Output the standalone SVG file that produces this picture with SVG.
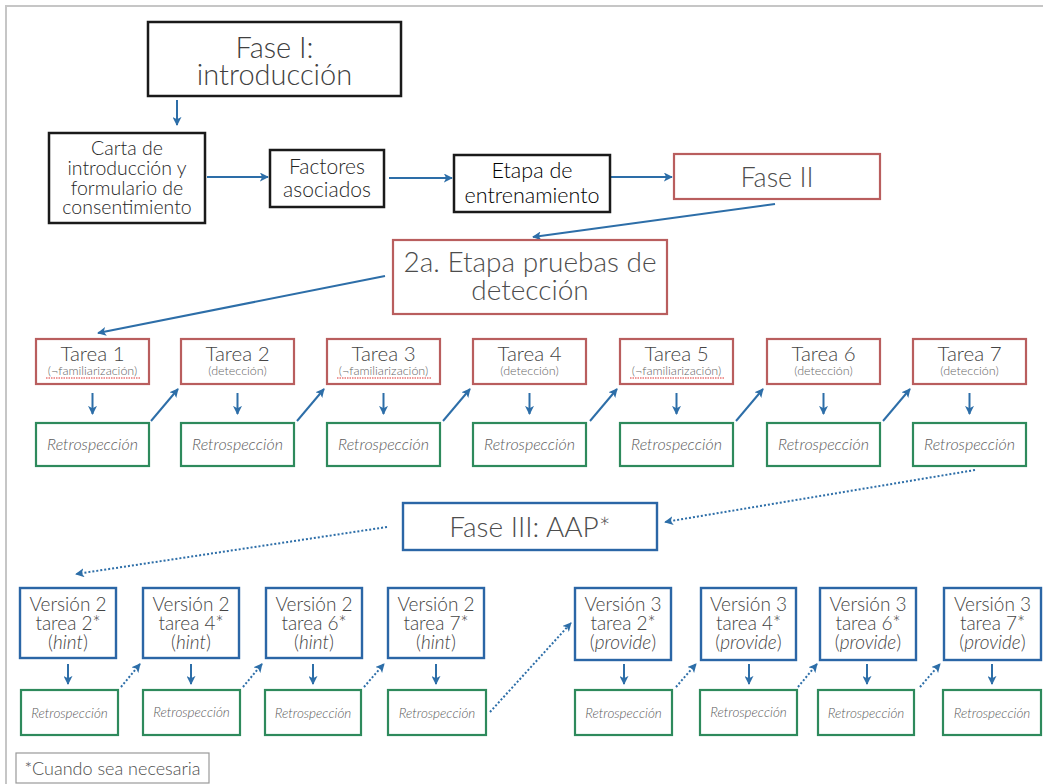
<svg xmlns="http://www.w3.org/2000/svg" width="1043" height="784" viewBox="0 0 1043 784">
  <style>
    text { font-family: Lato, "Open Sans", "Liberation Sans", sans-serif; text-anchor: middle; fill: #4d4d4d; font-weight: 300; }
    .blk { fill: none; stroke: #1a1a1a; stroke-width: 2.5; }
    .red { fill: #fff; stroke: #b95e5e; stroke-width: 2.2; }
    .grn { fill: #fff; stroke: #2e8a5c; stroke-width: 2.2; }
    .blu { fill: #fff; stroke: #2b66a6; stroke-width: 2.4; }
    .conn { stroke: #2d6ea8; stroke-width: 2; fill: none; }
    .dot { stroke: #2d6ea8; stroke-width: 2; fill: none; stroke-dasharray: 2 2; }
    .t28 { font-size: 29px; fill: #404040; }
    .t19 { font-size: 19.5px; fill: #262626; }
    .t21 { font-size: 21px; fill: #262626; }
    .t22 { font-size: 21.5px; fill: #000; }
    .t26 { font-size: 28px; }
    .task { font-size: 20.5px; fill: #444; }
    .sub { font-size: 12.5px; fill: #666; }
    .retro { font-size: 16px; font-style: italic; fill: #5c5c5c; }
    .ver { font-size: 19px; fill: #444; }
    .rs { font-size: 13.5px; font-style: italic; fill: #5c5c5c; }
    .squig { fill: none; stroke: #d33; stroke-width: 1; stroke-dasharray: 1.5 1; }
  </style>
  <defs>
    <marker id="ah" viewBox="0 0 10 10" refX="9" refY="5" markerWidth="9" markerHeight="9" markerUnits="userSpaceOnUse" orient="auto">
      <path d="M0,0 L10,5 L0,10 L2.5,5 Z" fill="#2d6ea8"/>
    </marker>
  </defs>

  <rect width="1043" height="784" fill="#fff"/>
  <!-- page frame -->
  <path d="M6,784 V6 H1043" fill="none" stroke="#c6c6c6" stroke-width="2"/>

  <!-- connectors -->
  <g id="connectors">
    <line class="conn" x1="177" y1="100" x2="177" y2="125" marker-end="url(#ah)"/>
    <line class="conn" x1="207" y1="177" x2="268" y2="177" marker-end="url(#ah)"/>
    <line class="conn" x1="389" y1="178" x2="452" y2="178" marker-end="url(#ah)"/>
    <line class="conn" x1="611" y1="177" x2="672" y2="177" marker-end="url(#ah)"/>
    <line class="conn" x1="775" y1="204" x2="533" y2="237" marker-end="url(#ah)"/>
    <line class="conn" x1="385" y1="276" x2="98" y2="333" marker-end="url(#ah)"/>

    <!-- Tarea -> Retrospección -->
    <line class="conn" x1="92.5" y1="393" x2="92.5" y2="414" marker-end="url(#ah)"/>
    <line class="conn" x1="237.5" y1="393" x2="237.5" y2="414" marker-end="url(#ah)"/>
    <line class="conn" x1="383.5" y1="393" x2="383.5" y2="414" marker-end="url(#ah)"/>
    <line class="conn" x1="529.5" y1="393" x2="529.5" y2="414" marker-end="url(#ah)"/>
    <line class="conn" x1="676.5" y1="393" x2="676.5" y2="414" marker-end="url(#ah)"/>
    <line class="conn" x1="823.5" y1="393" x2="823.5" y2="414" marker-end="url(#ah)"/>
    <line class="conn" x1="969.5" y1="393" x2="969.5" y2="414" marker-end="url(#ah)"/>
    <!-- Retrospección -> next Tarea -->
    <line class="conn" x1="151" y1="421" x2="178" y2="389" marker-end="url(#ah)"/>
    <line class="conn" x1="297" y1="421" x2="324" y2="389" marker-end="url(#ah)"/>
    <line class="conn" x1="443" y1="421" x2="470" y2="389" marker-end="url(#ah)"/>
    <line class="conn" x1="590" y1="421" x2="617" y2="389" marker-end="url(#ah)"/>
    <line class="conn" x1="736" y1="421" x2="763" y2="389" marker-end="url(#ah)"/>
    <line class="conn" x1="883" y1="421" x2="910" y2="389" marker-end="url(#ah)"/>

    <line class="dot" x1="975" y1="470" x2="665" y2="522" marker-end="url(#ah)"/>
    <line class="dot" x1="387" y1="527" x2="76" y2="574" marker-end="url(#ah)"/>

    <!-- Versión -> Retrospección -->
    <line class="conn" x1="68" y1="664" x2="68" y2="684" marker-end="url(#ah)"/>
    <line class="conn" x1="191" y1="664" x2="191" y2="684" marker-end="url(#ah)"/>
    <line class="conn" x1="313" y1="664" x2="313" y2="684" marker-end="url(#ah)"/>
    <line class="conn" x1="436" y1="664" x2="436" y2="684" marker-end="url(#ah)"/>
    <line class="conn" x1="624" y1="664" x2="624" y2="684" marker-end="url(#ah)"/>
    <line class="conn" x1="749" y1="664" x2="749" y2="684" marker-end="url(#ah)"/>
    <line class="conn" x1="867" y1="664" x2="867" y2="684" marker-end="url(#ah)"/>
    <line class="conn" x1="992" y1="664" x2="992" y2="684" marker-end="url(#ah)"/>
    <!-- Retrospección -> next Versión -->
    <line class="dot" x1="121" y1="687" x2="140" y2="664" marker-end="url(#ah)"/>
    <line class="dot" x1="243" y1="687" x2="262" y2="664" marker-end="url(#ah)"/>
    <line class="dot" x1="364" y1="687" x2="384" y2="664" marker-end="url(#ah)"/>
    <line class="dot" x1="490" y1="712" x2="571" y2="623" marker-end="url(#ah)"/>
    <line class="dot" x1="676" y1="687" x2="696" y2="664" marker-end="url(#ah)"/>
    <line class="dot" x1="798" y1="687" x2="817" y2="664" marker-end="url(#ah)"/>
    <line class="dot" x1="920" y1="687" x2="940" y2="664" marker-end="url(#ah)"/>
  </g>

  <!-- Fase I -->
  <g id="fase1">
    <rect class="blk" x="148" y="22" width="253" height="74"/>
    <text class="t28" x="274.5" y="58">Fase I:</text>
    <text class="t28" x="274.5" y="85">introducción</text>
  </g>
  <g id="carta">
    <rect class="blk" x="49" y="133" width="156" height="90"/>
    <text class="t19" x="127" y="155">Carta de</text>
    <text class="t19" x="127" y="175">introducción y</text>
    <text class="t19" x="127" y="195">formulario de</text>
    <text class="t19" x="127" y="214">consentimiento</text>
  </g>
  <g id="factores">
    <rect class="blk" x="270" y="150" width="114" height="57"/>
    <text class="t21" x="327" y="174">Factores</text>
    <text class="t21" x="327" y="197">asociados</text>
  </g>
  <g id="entrenamiento">
    <rect class="blk" x="454" y="155" width="156" height="57"/>
    <text class="t22" x="532" y="178">Etapa de</text>
    <text class="t22" x="532" y="203">entrenamiento</text>
  </g>
  <g id="fase2">
    <rect class="red" x="674" y="154" width="206" height="45"/>
    <text x="777" y="187" style="font-size:27px">Fase II</text>
  </g>
  <g id="etapa2a">
    <rect class="red" x="393" y="240" width="274" height="74"/>
    <text class="t26" x="530" y="272">2a. Etapa pruebas de</text>
    <text class="t26" x="530" y="300">detección</text>
  </g>

  <!-- Tareas -->
  <g id="tarea1">
    <rect class="red" x="36" y="339" width="113" height="45"/>
    <text class="task" x="92.5" y="361">Tarea 1</text>
    <text class="sub" x="92.5" y="375">(¬familiarización)</text>
    <path class="squig" d="M46,378 H140"/>
  </g>
  <g id="retro1"><rect class="grn" x="36" y="423" width="113" height="43"/><text class="retro" x="92.5" y="450">Retrospección</text></g>
  <g id="tarea2">
    <rect class="red" x="181" y="339" width="113" height="45"/>
    <text class="task" x="237.5" y="361">Tarea 2</text>
    <text class="sub" x="237.5" y="375">(detección)</text>
  </g>
  <g id="retro2"><rect class="grn" x="181" y="423" width="113" height="43"/><text class="retro" x="237.5" y="450">Retrospección</text></g>
  <g id="tarea3">
    <rect class="red" x="327" y="339" width="113" height="45"/>
    <text class="task" x="383.5" y="361">Tarea 3</text>
    <text class="sub" x="383.5" y="375">(¬familiarización)</text>
    <path class="squig" d="M337,378 H431"/>
  </g>
  <g id="retro3"><rect class="grn" x="327" y="423" width="113" height="43"/><text class="retro" x="383.5" y="450">Retrospección</text></g>
  <g id="tarea4">
    <rect class="red" x="473" y="339" width="113" height="45"/>
    <text class="task" x="529.5" y="361">Tarea 4</text>
    <text class="sub" x="529.5" y="375">(detección)</text>
  </g>
  <g id="retro4"><rect class="grn" x="473" y="423" width="113" height="43"/><text class="retro" x="529.5" y="450">Retrospección</text></g>
  <g id="tarea5">
    <rect class="red" x="620" y="339" width="113" height="45"/>
    <text class="task" x="676.5" y="361">Tarea 5</text>
    <text class="sub" x="676.5" y="375">(¬familiarización)</text>
    <path class="squig" d="M630,378 H724"/>
  </g>
  <g id="retro5"><rect class="grn" x="620" y="423" width="113" height="43"/><text class="retro" x="676.5" y="450">Retrospección</text></g>
  <g id="tarea6">
    <rect class="red" x="767" y="339" width="113" height="45"/>
    <text class="task" x="823.5" y="361">Tarea 6</text>
    <text class="sub" x="823.5" y="375">(detección)</text>
  </g>
  <g id="retro6"><rect class="grn" x="767" y="423" width="113" height="43"/><text class="retro" x="823.5" y="450">Retrospección</text></g>
  <g id="tarea7">
    <rect class="red" x="913" y="339" width="113" height="45"/>
    <text class="task" x="969.5" y="361">Tarea 7</text>
    <text class="sub" x="969.5" y="375">(detección)</text>
  </g>
  <g id="retro7"><rect class="grn" x="913" y="423" width="113" height="43"/><text class="retro" x="969.5" y="450">Retrospección</text></g>

  <!-- Fase III -->
  <g id="fase3">
    <rect class="blu" x="403" y="503" width="254" height="47"/>
    <text x="530" y="537" style="font-size:28px">Fase III: AAP*</text>
  </g>

  <!-- Versión 2 -->
  <g id="v2t2">
    <rect class="blu" x="20" y="588" width="96" height="70"/>
    <text class="ver" x="68" y="611">Versión 2</text><text class="ver" x="68" y="630">tarea 2*</text><text class="ver" x="68" y="649">(<tspan font-style="italic">hint</tspan>)</text>
  </g>
  <g id="v2r2"><rect class="grn" x="21" y="690" width="97" height="45"/><text class="rs" x="69.5" y="718">Retrospección</text></g>
  <g id="v2t4">
    <rect class="blu" x="143" y="588" width="96" height="70"/>
    <text class="ver" x="191" y="611">Versión 2</text><text class="ver" x="191" y="630">tarea 4*</text><text class="ver" x="191" y="649">(<tspan font-style="italic">hint</tspan>)</text>
  </g>
  <g id="v2r4"><rect class="grn" x="143" y="690" width="97" height="45"/><text class="rs" x="191.5" y="717">Retrospección</text></g>
  <g id="v2t6">
    <rect class="blu" x="266" y="588" width="96" height="70"/>
    <text class="ver" x="314" y="611">Versión 2</text><text class="ver" x="314" y="630">tarea 6*</text><text class="ver" x="314" y="649">(<tspan font-style="italic">hint</tspan>)</text>
  </g>
  <g id="v2r6"><rect class="grn" x="265" y="690" width="96" height="45"/><text class="rs" x="313" y="718">Retrospección</text></g>
  <g id="v2t7">
    <rect class="blu" x="388" y="588" width="96" height="70"/>
    <text class="ver" x="436" y="611">Versión 2</text><text class="ver" x="436" y="630">tarea 7*</text><text class="ver" x="436" y="649">(<tspan font-style="italic">hint</tspan>)</text>
  </g>
  <g id="v2r7"><rect class="grn" x="388" y="690" width="98" height="45"/><text class="rs" x="437" y="718">Retrospección</text></g>

  <!-- Versión 3 -->
  <g id="v3t2">
    <rect class="blu" x="575" y="588" width="96" height="72"/>
    <text class="ver" x="623" y="611">Versión 3</text><text class="ver" x="623" y="630">tarea 2*</text><text class="ver" x="623" y="649">(<tspan font-style="italic">provide</tspan>)</text>
  </g>
  <g id="v3r2"><rect class="grn" x="575" y="690" width="97" height="45"/><text class="rs" x="623.5" y="718">Retrospección</text></g>
  <g id="v3t4">
    <rect class="blu" x="701" y="588" width="95" height="72"/>
    <text class="ver" x="748.5" y="611">Versión 3</text><text class="ver" x="748.5" y="630">tarea 4*</text><text class="ver" x="748.5" y="649">(<tspan font-style="italic">provide</tspan>)</text>
  </g>
  <g id="v3r4"><rect class="grn" x="700" y="690" width="97" height="45"/><text class="rs" x="748.5" y="717">Retrospección</text></g>
  <g id="v3t6">
    <rect class="blu" x="820" y="588" width="96" height="72"/>
    <text class="ver" x="868" y="611">Versión 3</text><text class="ver" x="868" y="630">tarea 6*</text><text class="ver" x="868" y="649">(<tspan font-style="italic">provide</tspan>)</text>
  </g>
  <g id="v3r6"><rect class="grn" x="818" y="690" width="96" height="45"/><text class="rs" x="866" y="718">Retrospección</text></g>
  <g id="v3t7">
    <rect class="blu" x="944" y="588" width="97" height="72"/>
    <text class="ver" x="992.5" y="611">Versión 3</text><text class="ver" x="992.5" y="630">tarea 7*</text><text class="ver" x="992.5" y="649">(<tspan font-style="italic">provide</tspan>)</text>
  </g>
  <g id="v3r7"><rect class="grn" x="943" y="690" width="98" height="45"/><text class="rs" x="992" y="718">Retrospección</text></g>

  <!-- footnote -->
  <g id="nota">
    <rect x="16" y="753" width="193" height="30" fill="#fff" stroke="#999" stroke-width="1.2"/>
    <text x="112.5" y="775" style="font-size:18px">*Cuando sea necesaria</text>
  </g>
</svg>
